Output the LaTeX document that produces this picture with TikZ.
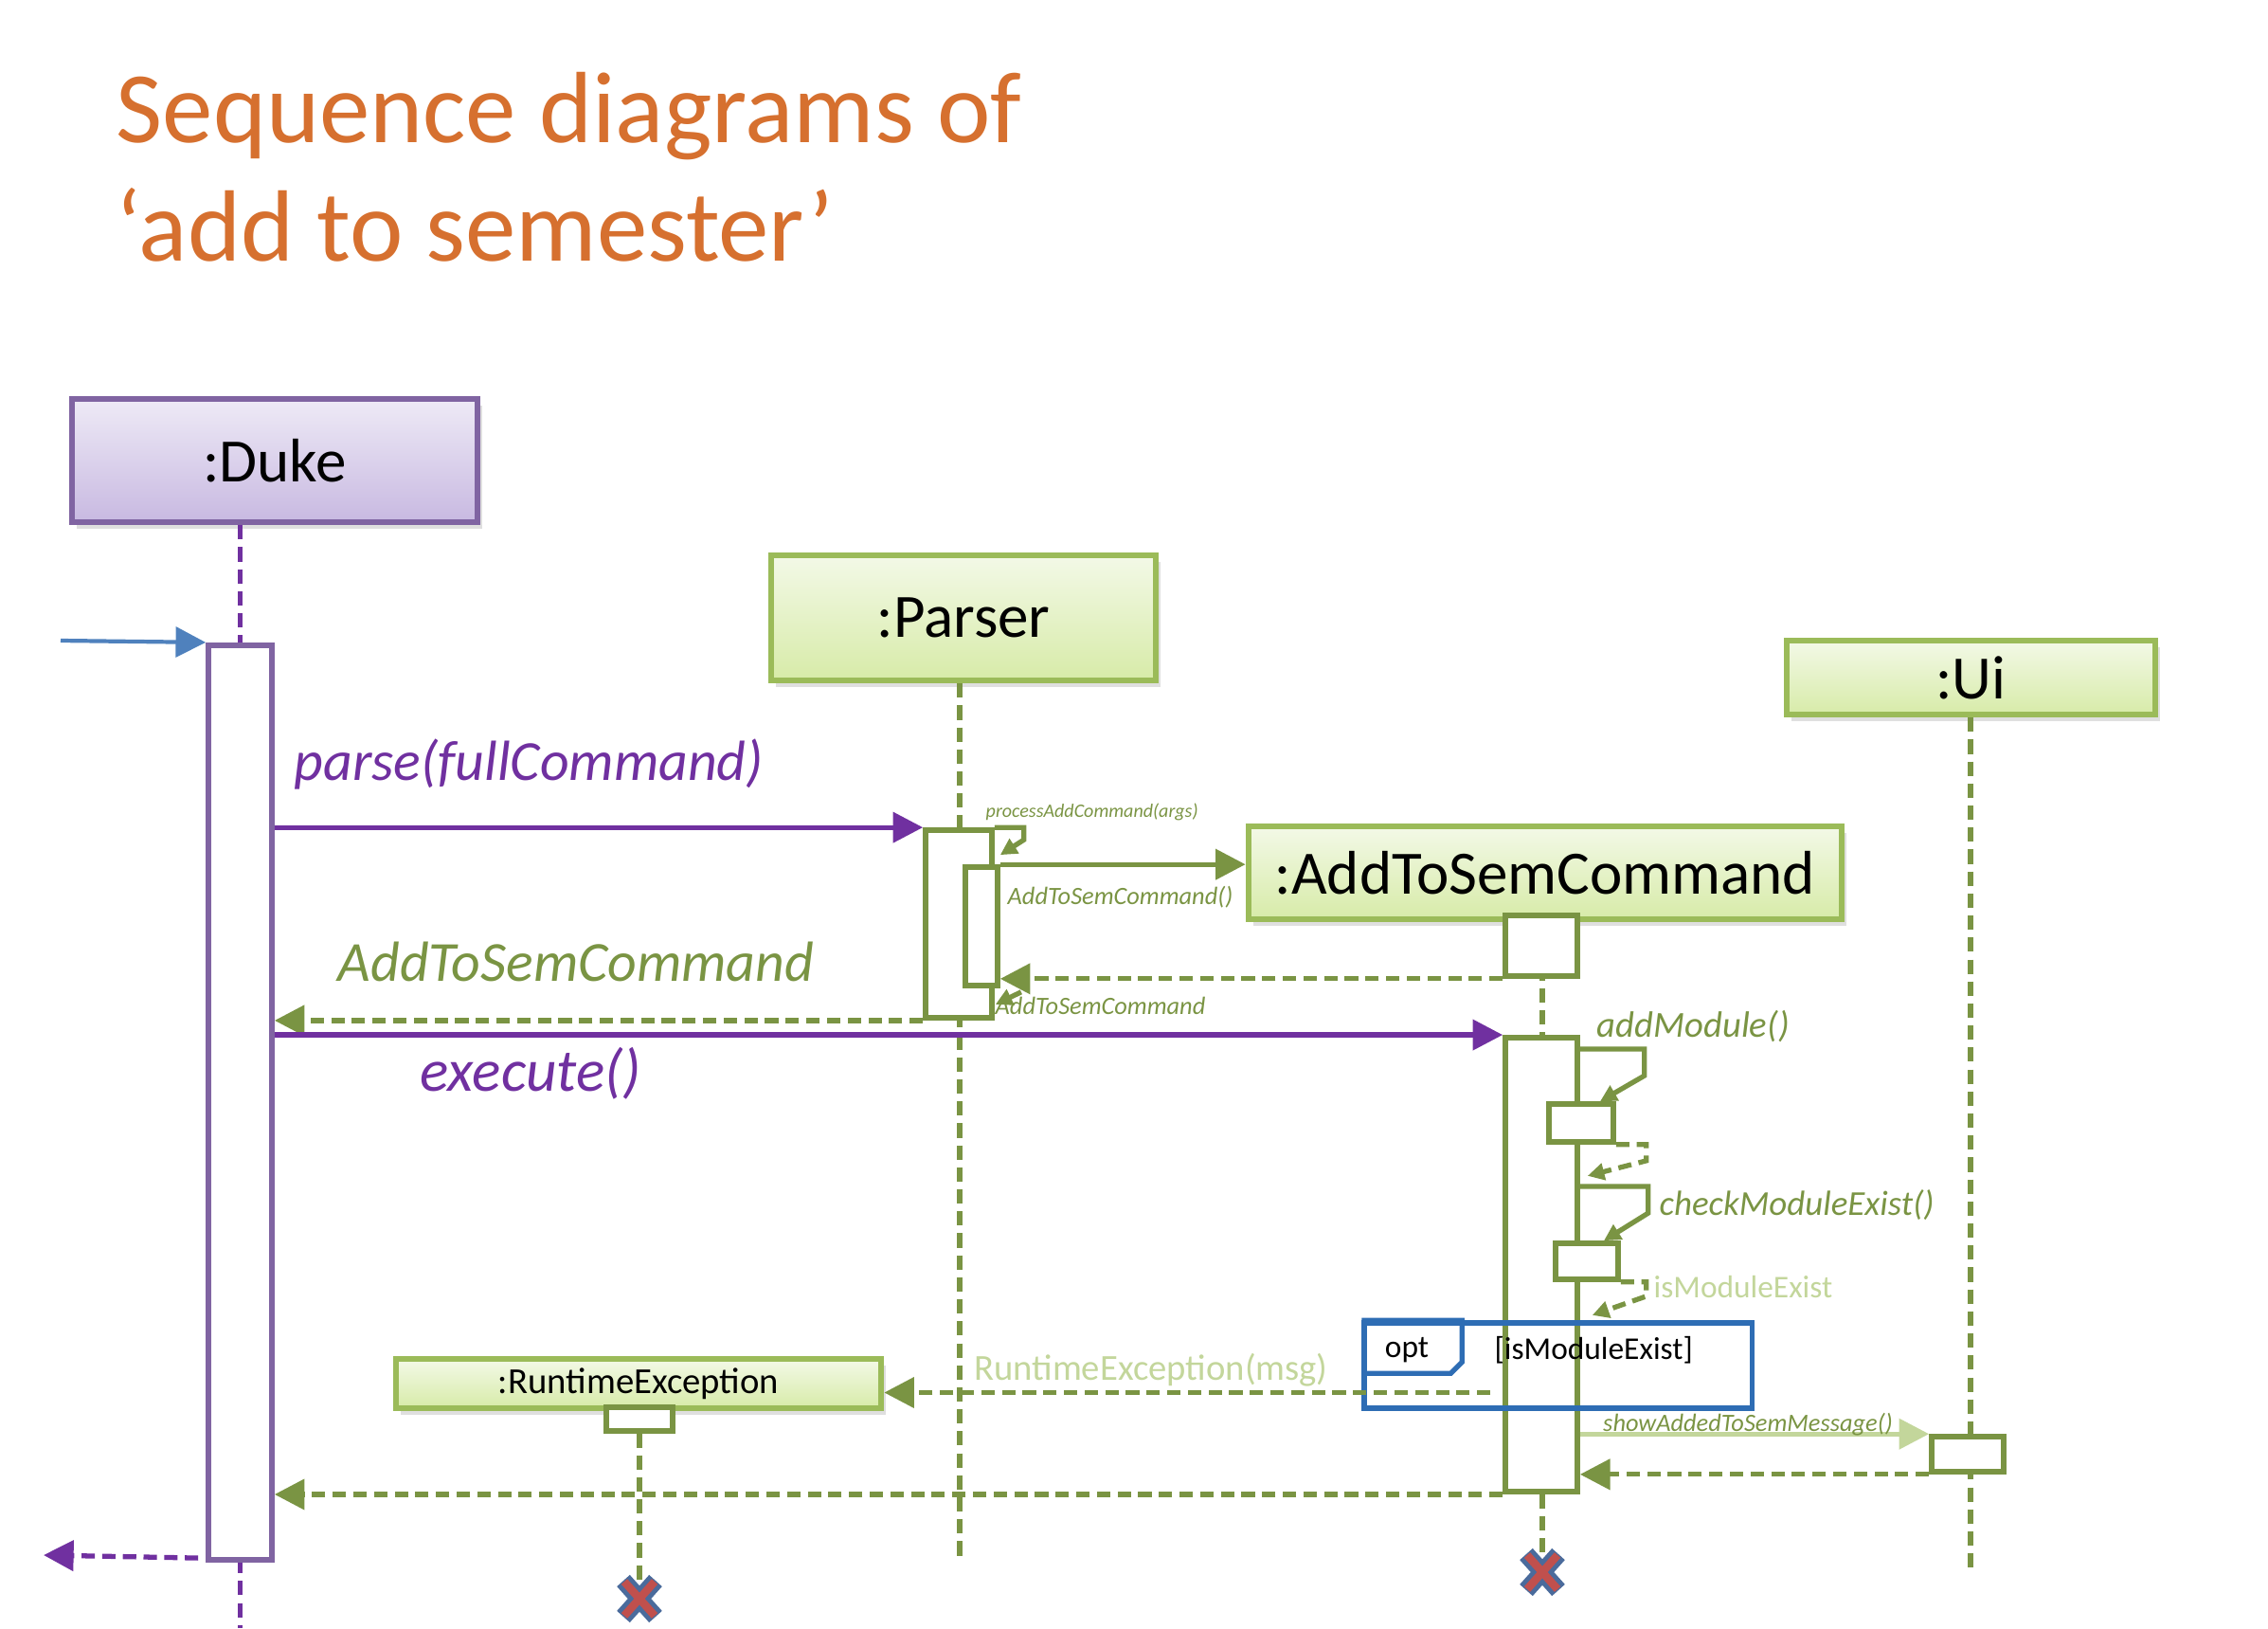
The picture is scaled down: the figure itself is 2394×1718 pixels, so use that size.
\documentclass[tikz,border=0pt]{standalone}
\usepackage{fontspec}
\setmainfont{Carlito}
\usepackage{tikz}
\usetikzlibrary{arrows.meta,positioning,calc,shadows}
\definecolor{seqorange}{HTML}{D6702F}
\definecolor{dkframe}{HTML}{8064A2}
\definecolor{dkline}{HTML}{7030A0}
\definecolor{dktop}{HTML}{EEEAF6}
\definecolor{dkbot}{HTML}{C8B9E1}
\definecolor{sgreen}{HTML}{9BBB59}
\definecolor{solive}{HTML}{7A9443}
\definecolor{slight}{HTML}{C3D69B}
\definecolor{stop}{HTML}{F3F9E7}
\definecolor{sbot}{HTML}{D7EBA8}
\definecolor{inblue}{HTML}{4F81BD}
\definecolor{optblue}{HTML}{2E6DB4}
\definecolor{xred}{HTML}{C0504D}
\definecolor{xblue}{HTML}{4A6B9C}
\newcommand{\killmark}[1]{%
  \draw[xblue,line width=5.2pt] ($(#1)+(-17,-19)$) -- ($(#1)+(17,19)$) ($(#1)+(17,-19)$) -- ($(#1)+(-17,19)$);
  \draw[xred,line width=2.4pt] ($(#1)+(-16,-18)$) -- ($(#1)+(16,18)$) ($(#1)+(16,-18)$) -- ($(#1)+(-16,18)$);}

\begin{document}
\begin{tikzpicture}[x=0.01cm,y=-0.01cm,
  title/.style={font=\fontsize{30.4}{36}\selectfont,text=seqorange,inner sep=0pt},
  objbox/.style={draw=sgreen,line width=1.8pt,top color=stop,bottom color=sbot,
    font=\fontsize{18.5}{22}\selectfont,inner sep=0pt,
    drop shadow={opacity=.25,shadow xshift=.5mm,shadow yshift=-.7mm}},
  dukebox/.style={objbox,draw=dkframe,top color=dktop,bottom color=dkbot},
  act/.style={draw=solive,line width=1.6pt,fill=white,inner sep=0pt},
  dukeact/.style={act,draw=dkframe},
  life/.style={solive,line width=1.5pt,dash pattern=on 4.3pt off 2.3pt},
  dlife/.style={life,dkline},
  call/.style={-{Triangle[length=9pt,width=9pt]},line width=1.5pt,solive},
  pcall/.style={call,dkline},
  lcall/.style={call,slight},
  inarr/.style={call,inblue,line width=1.2pt},
  ret/.style={call,dash pattern=on 4pt off 2.2pt},
  outarr/.style={ret,dkline},
  selfc/.style={-{Triangle[length=5pt,width=5pt]},line width=1.5pt,solive},
  selfr/.style={selfc,dash pattern=on 4pt off 2.2pt},
  lbl/.style={font=\fontsize{#1}{#1}\selectfont\itshape,text=solive,inner sep=0pt},
  plain/.style={font=\fontsize{#1}{#1}\selectfont,inner sep=0pt}]
  \useasboundingbox (0,0) rectangle (2394,1718);

  \node[title,anchor=base west] (title1) at (122,150) {Sequence diagrams of};
  \node[title,anchor=base west] (title2) at (122,275) {‘add to semester’};

  % objects
  \node[dukebox,minimum width=4.28cm,minimum height=1.30cm] (duke) at (290,486) {:Duke};
  \node[objbox,minimum width=4.06cm,minimum height=1.32cm] (parser) at (1017,652) {:Parser};
  \node[objbox,minimum width=6.26cm,minimum height=0.98cm] (asc) at (1631,921) {:AddToSemCommand};
  \node[objbox,minimum width=3.89cm,minimum height=0.78cm] (ui) at (2080.5,715) {:Ui};
  \node[objbox,font=\fontsize{11}{13}\selectfont,minimum width=5.12cm,minimum height=0.52cm] (rte) at (674,1460) {:RuntimeException};

  % lifelines
  \coordinate (dukeEnd) at (253.5,1718);
  \coordinate (parserEnd) at (1013,1646);
  \coordinate (ascEnd) at (1628,1659);
  \coordinate (uiEnd) at (2080,1654);
  \coordinate (rteEnd) at (675,1687);
  \draw[dlife] (dukeEnd |- duke.south) -- (dukeEnd);
  \draw[life] (parserEnd |- parser.south) -- (parserEnd);
  \draw[life] (ascEnd |- asc.south) -- (ascEnd);
  \draw[life] (uiEnd |- ui.south) -- (uiEnd);
  \draw[life] (rteEnd |- rte.south) -- (rteEnd);

  % activations
  \node[dukeact,minimum width=0.67cm,minimum height=9.65cm] (dukeAct) at (253.5,1163.5) {};
  \node[act,minimum width=0.70cm,minimum height=1.98cm] (pAct) at (1012,975) {};
  \node[act,minimum width=0.34cm,minimum height=1.25cm] (pAct2) at (1036,977.5) {};
  \node[act,minimum width=0.76cm,minimum height=0.64cm] (aAct0) at (1627,998) {};
  \node[act,minimum width=0.76cm,minimum height=4.79cm] (aAct) at (1627,1334.5) {};
  \node[act,minimum width=0.68cm,minimum height=0.40cm] (aAct1) at (1669,1185) {};
  \node[act,minimum width=0.66cm,minimum height=0.38cm] (aAct2) at (1675,1331) {};
  \node[act,minimum width=0.76cm,minimum height=0.37cm] (uAct) at (2077,1534.5) {};
  \node[act,minimum width=0.70cm,minimum height=0.25cm] (rAct) at (675,1497.5) {};

  % opt fragment
  \node[draw=optblue,line width=1.5pt,minimum width=4.09cm,minimum height=0.90cm,inner sep=0pt] (optFrame) at (1644.5,1441) {};
  \draw[optblue,line width=1.5pt] (optFrame.north west) -- ++(106,0) -- ++(0,44) -- ++(-12,12) -- ++(-94,0);
  \node[plain=9.5] (optTag) at (1485,1425) {opt};
  \node[plain=9.5,anchor=west] (optGuard) at (1577,1425) {[isModuleExist]};

  % messages
  \coordinate (inStart) at (64,676);
  \coordinate (outEnd) at (46,1641);
  \draw[inarr] (inStart) -- (dukeAct.north west);
  \draw[pcall] (dukeAct.east |- pAct.north) -- (pAct.north west);
  \draw[selfc] (pAct.north east) -| ($(pAct.north east)+(31,13)$) -- ($(pAct2.north east)+(0,-10)$);
  \draw[call] (pAct2.north east) -- (pAct2.north east -| asc.west);
  \draw[ret] (aAct0.south west) -- (aAct0.south west -| pAct2.east);
  \draw[selfr] ($(pAct2.south east)+(22,4)$) -- ($(pAct.south east)+(1,-17)$);
  \draw[ret] (pAct.south west) -- (pAct.south west -| dukeAct.east);
  \draw[pcall] (dukeAct.east |- aAct.north) -- (aAct.north west);
  \draw[selfc] ($(aAct.north east)+(0,15)$) -- ++(68,0) -- ++(0,28) -- ($(aAct1.north)+(20,0)$);
  \draw[selfr] (aAct1.south east) -- ++(32,0) -- ++(0,17) -- ($(aAct1.south east)+(-30,33)$);
  \draw[selfc] ($(aAct.north east)+(0,160)$) -- ++(72,0) -- ++(0,28) -- ($(aAct2.north)+(18,0)$);
  \draw[selfr] (aAct2.south east) -- ++(27,0) -- ++(0,15) -- ($(aAct2.south east)+(-30,35)$);
  \coordinate (excFrom) at ($(aAct.west)+(-13,135)$);
  \draw[ret] (excFrom) -- (excFrom -| rte.east);
  \draw[lcall] (aAct.east |- uAct.north) -- (uAct.north west);
  \draw[ret] (uAct.south west) -- (uAct.south west -| aAct.east);
  \draw[ret] (aAct.south west) -- (aAct.south west -| dukeAct.east);
  \draw[outarr] ($(dukeAct.south west)+(-8,-5)$) -- (outEnd);

  % labels
  \node[lbl=17,text=dkline,anchor=west] (parseLbl) at (310,806) {parse(fullCommand)};
  \node[lbl=17,anchor=west] (ascLbl) at (356,1015) {AddToSemCommand};
  \node[lbl=18,text=dkline,anchor=west] (execLbl) at (443,1133) {execute()};
  \node[lbl=5.7,anchor=west] (procLbl) at (1040,857) {processAddCommand(args)};
  \node[lbl=7.5,anchor=west] (newLbl) at (1063,947) {AddToSemCommand()};
  \node[lbl=7.5,anchor=west] (retLbl) at (1050,1061) {AddToSemCommand};
  \node[lbl=11,anchor=west] (addLbl) at (1685,1083) {addModule()};
  \node[lbl=10.5,anchor=west] (chkLbl) at (1751,1272) {checkModuleExist()};
  \node[plain=9.5,text=slight,anchor=west] (existLbl) at (1745,1358) {isModuleExist};
  \node[plain=11,text=slight] (excLbl) at (1215,1446) {RuntimeException(msg)};
  \node[lbl=7.5,anchor=base] (showLbl) at (1845,1510) {showAddedToSemMessage()};

  \killmark{ascEnd}
  \killmark{rteEnd}
\end{tikzpicture}
\end{document}
